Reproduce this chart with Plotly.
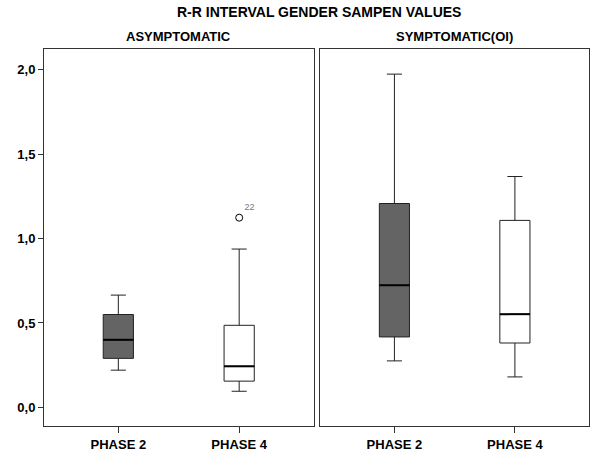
import plotly.graph_objects as go

title_text = "R-R INTERVAL GENDER SAMPEN VALUES"
groups = ["ASYMPTOMATIC", "SYMPTOMATIC(OI)"]
phases = ["PHASE 2", "PHASE 4"]

asym_lower = [0.22, 0.095]
asym_q1 = [0.29, 0.155]
asym_median = [0.40, 0.243]
asym_q3 = [0.55, 0.486]
asym_upper = [0.665, 0.938]

sym_lower = [0.275, 0.18]
sym_q1 = [0.417, 0.381]
sym_median = [0.724, 0.552]
sym_q3 = [1.208, 1.108]
sym_upper = [1.975, 1.368]

outlier_phase = [1]
outlier_value = [1.124]
outlier_label = ["22"]

y_ticks = [0.0, 0.5, 1.0, 1.5, 2.0]

fills = ["#646464", "#ffffff"]
BOX_W = 0.25
FONT = "Liberation Sans, Arial, sans-serif"

fig = go.Figure()

data = [
    ("x", "y", asym_lower, asym_q1, asym_median, asym_q3, asym_upper),
    ("x2", "y2", sym_lower, sym_q1, sym_median, sym_q3, sym_upper),
]
for xa, ya, lo, q1, me, q3, up in data:
    for i in range(len(phases)):
        fig.add_trace(go.Box(
            x=[i], lowerfence=[lo[i]], q1=[q1[i]], median=[me[i]],
            q3=[q3[i]], upperfence=[up[i]],
            width=BOX_W, whiskerwidth=0.5,
            fillcolor=fills[i], line=dict(color="#222222", width=1),
            boxpoints=False, hoverinfo="skip",
            xaxis=xa, yaxis=ya, showlegend=False,
        ))
        fig.add_trace(go.Scatter(
            x=[i - BOX_W / 2, i + BOX_W / 2], y=[me[i], me[i]],
            mode="lines", line=dict(color="#000000", width=2),
            xaxis=xa, yaxis=ya, showlegend=False, hoverinfo="skip",
        ))

fig.add_trace(go.Scatter(
    x=outlier_phase, y=outlier_value, mode="markers+text",
    marker=dict(symbol="circle-open", size=7, color="#000000", line=dict(width=1)),
    text=outlier_label, textposition="top right",
    textfont=dict(family=FONT, size=9, color="#777777"),
    xaxis="x", yaxis="y", showlegend=False, hoverinfo="skip",
))

axis_common = dict(
    showline=True, mirror=True, linecolor="#333333", linewidth=1,
    showgrid=False, zeroline=False,
)
tickfont = dict(family=FONT, size=13, color="#000000", weight="bold")

fig.update_layout(
    width=595, height=457,
    margin=dict(l=44, r=5, t=49, b=29),
    paper_bgcolor="white", plot_bgcolor="white",
    separators=",.",
    showlegend=False,
    xaxis=dict(domain=[0, 0.4945], range=[-0.615, 1.615],
               tickvals=[0, 1], ticktext=phases, ticks="outside",
               ticklen=6, tickcolor="#333333", tickfont=tickfont,
               anchor="y", **axis_common),
    xaxis2=dict(domain=[0.507, 1], range=[-0.615, 1.615],
                tickvals=[0, 1], ticktext=phases, ticks="outside",
                ticklen=6, tickcolor="#333333", tickfont=tickfont,
                anchor="y2", **axis_common),
    yaxis=dict(range=[-0.111, 2.124], tickvals=y_ticks, tickformat=".1f",
               ticks="outside", ticklen=5, tickcolor="#333333",
               tickfont=tickfont, anchor="x", **axis_common),
    yaxis2=dict(range=[-0.111, 2.124], showticklabels=False, ticks="",
                anchor="x2", **axis_common),
    annotations=[
        dict(text=title_text, xref="paper", yref="paper", x=0.505, y=1.098,
             showarrow=False, xanchor="center", yanchor="middle",
             font=dict(family=FONT, size=14, color="#000000", weight="bold")),
        dict(text=groups[0], xref="paper", yref="paper", x=0.247, y=1.033,
             showarrow=False, xanchor="center", yanchor="middle",
             font=dict(family=FONT, size=13, color="#000000", weight="bold")),
        dict(text=groups[1], xref="paper", yref="paper", x=0.7535, y=1.033,
             showarrow=False, xanchor="center", yanchor="middle",
             font=dict(family=FONT, size=13, color="#000000", weight="bold")),
    ],
)

fig.write_html("out.html",
               config={"displayModeBar": False},
               post_script="document.body.style.margin='0';document.body.style.padding='0';")
